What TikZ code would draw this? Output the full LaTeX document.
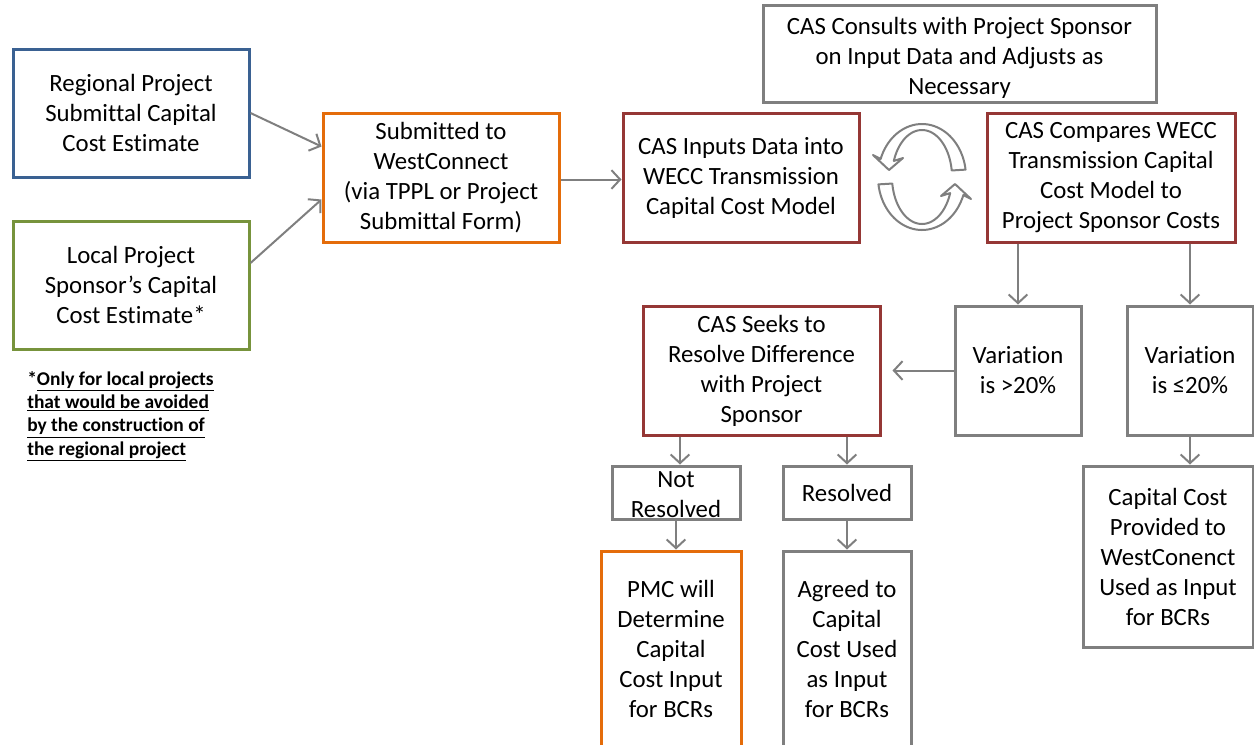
\documentclass[tikz,border=0pt]{standalone}
\usepackage{fontspec}
\setmainfont{Carlito}[RawFeature={-liga;-clig;-dlig;-calt}]
\usetikzlibrary{arrows.meta,calc}
\definecolor{bxgray}{HTML}{7F7F7F}
\definecolor{bxred}{HTML}{953735}
\definecolor{bxorange}{HTML}{E46C0A}
\definecolor{bxblue}{HTML}{3A6192}
\definecolor{bxgreen}{HTML}{77933C}
\begin{document}
\begin{tikzpicture}[x=0.75pt,y=-0.75pt,
  box/.style={draw, line width=2.25pt, inner sep=0pt, align=center, fill=white,
    font=\fontsize{18.6}{22.5}\selectfont},
  gbox/.style={box, draw=bxgray},
  rbox/.style={box, draw=bxred},
  obox/.style={box, draw=bxorange},
  bbox/.style={box, draw=bxblue},
  grbox/.style={box, draw=bxgreen},
  plain/.style={inner sep=0pt, align=center, font=\fontsize{18.6}{22.5}\selectfont},
  conn/.style={draw=bxgray, line width=1.5pt, -{Straight Barb[length=6.5pt,width=14pt]}},
  cyc/.style={draw=bxgray, line width=1.5pt, fill=white, line join=round}]
\useasboundingbox (0,0) rectangle (1254,744);

% boxes
\node[bbox, minimum width=177pt, minimum height=96pt] (reg) at (131,113) {Regional Project\\Submittal Capital\\Cost Estimate};
\node[grbox, minimum width=177pt, minimum height=96pt] (loc) at (131,285) {Local Project\\Sponsor’s Capital\\Cost Estimate*};
\node[obox, minimum width=177pt, minimum height=96.75pt] (sub) at (441,177.5) {Submitted to\\WestConnect\\(via TPPL or Project\\Submittal Form)};
\node[rbox, minimum width=177pt, minimum height=96.75pt] (inp) at (741,177.5) {CAS Inputs Data into\\WECC Transmission\\Capital Cost Model};
\node[gbox, minimum width=294.75pt, minimum height=72.75pt] (cons) at (959.5,53.5) {};
\node[plain] (const) at (959.5,57.5) {CAS Consults with Project Sponsor\\on Input Data and Adjusts as\\Necessary};
\node[rbox, minimum width=186pt, minimum height=96.75pt] (cmp) at (1111,177.5) {CAS Compares WECC\\Transmission Capital\\Cost Model to\\Project Sponsor Costs};
\node[gbox, minimum width=94.5pt, minimum height=96.75pt] (v1) at (1018,370.5) {Variation\\is >20\%};
\node[gbox, minimum width=94.5pt, minimum height=96.75pt] (v2) at (1190,370.5) {Variation\\is ≤20\%};
\node[rbox, minimum width=177.75pt, minimum height=96.75pt] (seek) at (761.5,370.5) {CAS Seeks to\\Resolve Difference\\with Project\\Sponsor};
\node[gbox, minimum width=96pt, minimum height=39.75pt] (nr) at (676,492.5) {};
\node[plain] (nrt) at (676,495) {Not\\Resolved};
\node[gbox, minimum width=96pt, minimum height=39.75pt] (res) at (847,492.5) {Resolved};
\node[obox, minimum width=105pt, minimum height=147pt] (pmc) at (671,649) {PMC will\\Determine\\Capital\\Cost Input\\for BCRs};
\node[gbox, minimum width=96pt, minimum height=147pt] (agr) at (847,649) {Agreed to\\Capital\\Cost Used\\as Input\\for BCRs};
\node[gbox, minimum width=127.5pt, minimum height=135.75pt] (cap) at (1168,556.5) {Capital Cost\\Provided to\\WestConenct\\Used as Input\\for BCRs};

% footnote
\node[anchor=north west, align=left, inner sep=0pt, font=\bfseries\fontsize{14.6}{17.5}\selectfont] (note) at (27,371)
  {*\underline{Only for local projects}\\\underline{that would be avoided}\\\underline{by the construction of}\\\underline{the regional project}};

% connectors
\draw[conn] (reg.east) -- ($(sub.west)+(0,-31)$);
\draw[conn] ($(loc.east)+(0,-22)$) -- ($(sub.west)+(0,22)$);
\draw[conn] ($(sub.east)+(0,2)$) -- ($(inp.west)+(0,2)$);
\draw[conn] (cmp.south -| v1.north) -- (v1.north);
\draw[conn] (cmp.south -| v2.north) -- (v2.north);
\draw[conn] (v1.west) -- ($(seek.east)+(11,0)$);
\draw[conn] ($(seek.south -| nr.north)+(4,0)$) -- ($(nr.north)+(4,0)$);
\draw[conn] (seek.south -| res.north) -- (res.north);
\draw[conn] (nr.south) -- (nr.south |- pmc.north);
\draw[conn] (res.south) -- (agr.north);
\draw[conn] (v2.south) -- (v2.south |- cap.north);

% cycle arrows
\def\cx{922}\def\cy{177}
\path[cyc] plot[domain=-8:-160, samples=40] ({\cx+44*cos(\x)},{\cy+53*sin(\x)})
   -- (873,155) -- (889,170) -- (903,158)
   -- plot[domain=-160:-8, samples=40] ({\cx+30*cos(\x)},{\cy+47*sin(\x)}) -- cycle;
\path[cyc, rotate around={180:(\cx,\cy)}] plot[domain=-8:-160, samples=40] ({\cx+44*cos(\x)},{\cy+53*sin(\x)})
   -- (873,155) -- (889,170) -- (903,158)
   -- plot[domain=-160:-8, samples=40] ({\cx+30*cos(\x)},{\cy+47*sin(\x)}) -- cycle;
\end{tikzpicture}
\end{document}
